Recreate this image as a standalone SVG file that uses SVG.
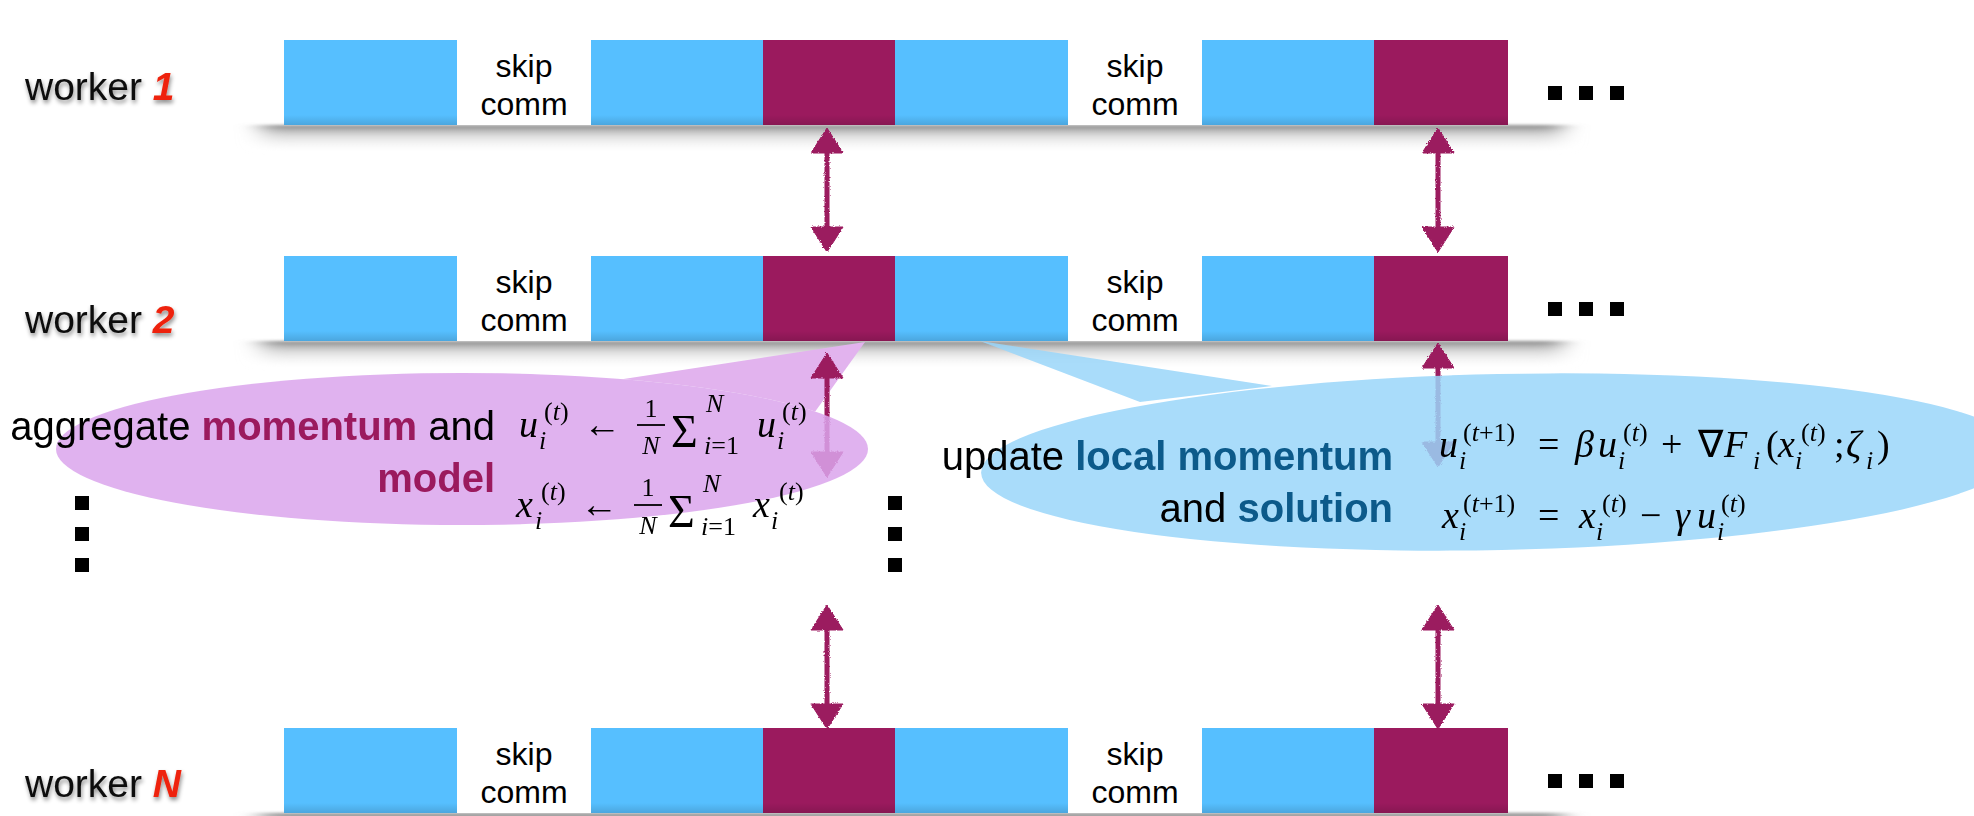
<svg xmlns="http://www.w3.org/2000/svg" xmlns:xlink="http://www.w3.org/1999/xlink" width="1974" height="816" viewBox="0 0 1974 816">
<defs>
<style>
.lbl{font-family:"Liberation Sans",Arial,sans-serif;font-size:39px;fill:#111}
.num{font-weight:bold;font-style:italic;fill:#ee220c}
.sk{font-family:"Liberation Sans",Arial,sans-serif;font-size:32px;fill:#000;text-anchor:middle}
.blue{fill:#56bfff}
.mar{fill:#9b1a5e}
.wh{fill:#ffffff}
.dot{fill:#000}
.ctext{font-family:"Liberation Sans",Arial,sans-serif;font-size:40px;fill:#000;text-anchor:end}
.bm{font-weight:bold;fill:#9b1a5e}
.bb{font-weight:bold;fill:#0c5a8a}
.m{font-family:"Liberation Serif","Times New Roman",serif;font-size:38px;fill:#000}
.s{font-family:"Liberation Serif","Times New Roman",serif;font-size:26px;fill:#000}
.it{font-style:italic}
.sig{font-family:"Liberation Serif","Times New Roman",serif;font-size:46px;fill:#000}
.arr{fill:#9b1a5e;stroke:#9b1a5e}
</style>
<linearGradient id="shadeV" x1="0" y1="0" x2="0" y2="1">
<stop offset="0" stop-color="#7a7a7a" stop-opacity="0.9"/>
<stop offset="0.35" stop-color="#b5b5b5" stop-opacity="0.55"/>
<stop offset="1" stop-color="#ffffff" stop-opacity="0"/>
</linearGradient>
<linearGradient id="inner" x1="0" y1="0" x2="0" y2="1">
<stop offset="0" stop-color="#000" stop-opacity="0"/>
<stop offset="1" stop-color="#000" stop-opacity="0.13"/>
</linearGradient>
<filter id="blurX" x="-10%" y="-100%" width="120%" height="300%">
<feGaussianBlur stdDeviation="12 1.5"/>
</filter>
<filter id="tshadow" x="-10%" y="-30%" width="120%" height="170%">
<feDropShadow dx="1" dy="3" stdDeviation="2" flood-color="#000" flood-opacity="0.45"/>
</filter>
<filter id="rough" x="-30%" y="-10%" width="160%" height="120%">
<feTurbulence type="fractalNoise" baseFrequency="0.8" numOctaves="2" seed="3" result="n"/>
<feDisplacementMap in="SourceGraphic" in2="n" scale="3" xChannelSelector="R" yChannelSelector="G"/>
</filter>
<mask id="outPink" maskUnits="userSpaceOnUse" x="0" y="0" width="1974" height="816">
<rect x="0" y="0" width="1974" height="816" fill="#fff"/>
<ellipse cx="462" cy="449" rx="406" ry="76" fill="#000"/>
</mask>
<g id="bar">
<rect x="262" y="85" width="1300" height="28" fill="url(#shadeV)" filter="url(#blurX)"/>
<rect class="blue" x="284" y="0" width="173" height="85"/>
<rect class="wh" x="457" y="0" width="134" height="85"/>
<rect class="blue" x="591" y="0" width="172" height="85"/>
<rect class="mar" x="763" y="0" width="132" height="85"/>
<rect class="blue" x="895" y="0" width="173" height="85"/>
<rect class="wh" x="1068" y="0" width="134" height="85"/>
<rect class="blue" x="1202" y="0" width="172" height="85"/>
<rect class="mar" x="1374" y="0" width="134" height="85"/>
<rect x="284" y="75" width="173" height="10" fill="url(#inner)"/>
<rect x="591" y="75" width="304" height="10" fill="url(#inner)"/>
<rect x="1202" y="75" width="306" height="10" fill="url(#inner)"/>
<rect x="895" y="75" width="173" height="10" fill="url(#inner)"/>
<text class="sk" x="524" y="37">skip</text>
<text class="sk" x="524" y="75">comm</text>
<text class="sk" x="1135" y="37">skip</text>
<text class="sk" x="1135" y="75">comm</text>
<rect class="dot" x="1548" y="46" width="14" height="14"/>
<rect class="dot" x="1579" y="46" width="14" height="14"/>
<rect class="dot" x="1610" y="46" width="14" height="14"/>
</g>
<g id="dblarrow">
<line x1="0" y1="20" x2="0" y2="104" stroke="#9b1a5e" stroke-width="5"/>
<polygon class="arr" points="0,0 -16,25 16,25"/>
<polygon class="arr" points="0,124 -16,99 16,99"/>
</g>
</defs>
<rect x="0" y="0" width="1974" height="816" fill="#ffffff"/>

<g id="worker1">
<use xlink:href="#bar" href="#bar" x="0" y="40"/>
<text class="lbl" x="25" y="100" filter="url(#tshadow)">worker <tspan class="num">1</tspan></text>
</g>
<g id="worker2">
<use xlink:href="#bar" href="#bar" x="0" y="256"/>
<text class="lbl" x="25" y="333" filter="url(#tshadow)">worker <tspan class="num">2</tspan></text>
</g>
<g id="workerN">
<use xlink:href="#bar" href="#bar" x="0" y="728"/>
<text class="lbl" x="25" y="797" filter="url(#tshadow)">worker <tspan class="num">N</tspan></text>
</g>

<g id="ellipsis-left">
<rect class="dot" x="75" y="496" width="14" height="14"/>
<rect class="dot" x="75" y="527" width="14" height="14"/>
<rect class="dot" x="75" y="558" width="14" height="14"/>
</g>
<g id="ellipsis-mid">
<rect class="dot" x="888" y="496" width="14" height="14"/>
<rect class="dot" x="888" y="527" width="14" height="14"/>
<rect class="dot" x="888" y="558" width="14" height="14"/>
</g>

<g id="callout-aggregate-tail">
<polygon points="865,342 617,380 700,440 812,416" fill="#e2b3ee" mask="url(#outPink)"/>
</g>

<g id="connectors" filter="url(#rough)">
<use xlink:href="#dblarrow" href="#dblarrow" x="827" y="128"/>
<use xlink:href="#dblarrow" href="#dblarrow" x="1438" y="128"/>
<use xlink:href="#dblarrow" href="#dblarrow" x="827" y="353"/>
<use xlink:href="#dblarrow" href="#dblarrow" x="1438" y="343"/>
<use xlink:href="#dblarrow" href="#dblarrow" x="827" y="605"/>
<use xlink:href="#dblarrow" href="#dblarrow" x="1438" y="605"/>
</g>

<g id="callout-aggregate">
<ellipse cx="462" cy="449" rx="406" ry="76" fill="#dba5ec" opacity="0.85"/>
<text class="ctext" x="495" y="440">aggregate <tspan class="bm">momentum</tspan> and</text>
<text class="ctext" x="495" y="492"><tspan class="bm">model</tspan></text>
<g id="eq-agg">
<text class="m it" x="519" y="437">u</text>
<text class="s" x="544" y="420">(<tspan class="it">t</tspan>)</text>
<text class="s it" x="539" y="449">i</text>
<text class="m" x="583" y="437">←</text>
<text class="s" x="651" y="417" text-anchor="middle">1</text>
<line x1="637" y1="425" x2="665" y2="425" stroke="#000" stroke-width="1.8"/>
<text class="s it" x="651" y="454" text-anchor="middle">N</text>
<text class="sig" x="671" y="447">Σ</text>
<text class="s it" x="706" y="412">N</text>
<text class="s" x="704" y="454"><tspan class="it">i</tspan>=1</text>
<text class="m it" x="757" y="437">u</text>
<text class="s it" x="777" y="449">i</text>
<text class="s" x="782" y="420">(<tspan class="it">t</tspan>)</text>

<text class="m it" x="516" y="517">x</text>
<text class="s" x="541" y="500">(<tspan class="it">t</tspan>)</text>
<text class="s it" x="535" y="529">i</text>
<text class="m" x="580" y="517">←</text>
<text class="s" x="648" y="496" text-anchor="middle">1</text>
<line x1="634" y1="505" x2="662" y2="505" stroke="#000" stroke-width="1.8"/>
<text class="s it" x="648" y="534" text-anchor="middle">N</text>
<text class="sig" x="668" y="527">Σ</text>
<text class="s it" x="703" y="492">N</text>
<text class="s" x="701" y="535"><tspan class="it">i</tspan>=1</text>
<text class="m it" x="753" y="517">x</text>
<text class="s it" x="771" y="529">i</text>
<text class="s" x="779" y="500">(<tspan class="it">t</tspan>)</text>
</g>
</g>

<g id="callout-update">
<g opacity="0.85" fill="#9ad6fa">
<ellipse cx="1500" cy="462" rx="519" ry="88" transform="rotate(-1.2 1500 462)"/>
<polygon points="980,341 1140,402 1272,386"/>
</g>
<text class="ctext" x="1393" y="470">update <tspan class="bb">local momentum</tspan></text>
<text class="ctext" x="1393" y="522">and <tspan class="bb">solution</tspan></text>
<g id="eq-upd">
<text class="m it" x="1439" y="457">u</text>
<text class="s it" x="1459" y="469">i</text>
<text class="s" x="1463" y="441">(<tspan class="it">t</tspan>+1)</text>
<text class="m" x="1538" y="457">=</text>
<text class="m it" x="1575" y="457">β</text>
<text class="m it" x="1598" y="457">u</text>
<text class="s it" x="1618" y="469">i</text>
<text class="s" x="1623" y="441">(<tspan class="it">t</tspan>)</text>
<text class="m" x="1661" y="457">+</text>
<text class="m" x="1698" y="457">∇</text>
<text class="m it" x="1724" y="457">F</text>
<text class="s it" x="1753" y="469">i</text>
<text class="m" x="1766" y="457">(</text>
<text class="m it" x="1778" y="457">x</text>
<text class="s it" x="1795" y="469">i</text>
<text class="s" x="1801" y="441">(<tspan class="it">t</tspan>)</text>
<text class="m" x="1834" y="457">;</text>
<text class="m it" x="1846" y="457">ζ</text>
<text class="s it" x="1866" y="469">i</text>
<text class="m" x="1877" y="457">)</text>

<text class="m it" x="1442" y="528">x</text>
<text class="s it" x="1459" y="540">i</text>
<text class="s" x="1463" y="512">(<tspan class="it">t</tspan>+1)</text>
<text class="m" x="1538" y="528">=</text>
<text class="m it" x="1579" y="528">x</text>
<text class="s it" x="1596" y="540">i</text>
<text class="s" x="1602" y="512">(<tspan class="it">t</tspan>)</text>
<text class="m" x="1640" y="528">−</text>
<text class="m it" x="1675" y="528">γ</text>
<text class="m it" x="1697" y="528">u</text>
<text class="s it" x="1717" y="540">i</text>
<text class="s" x="1721" y="512">(<tspan class="it">t</tspan>)</text>
</g>
</g>
</svg>
